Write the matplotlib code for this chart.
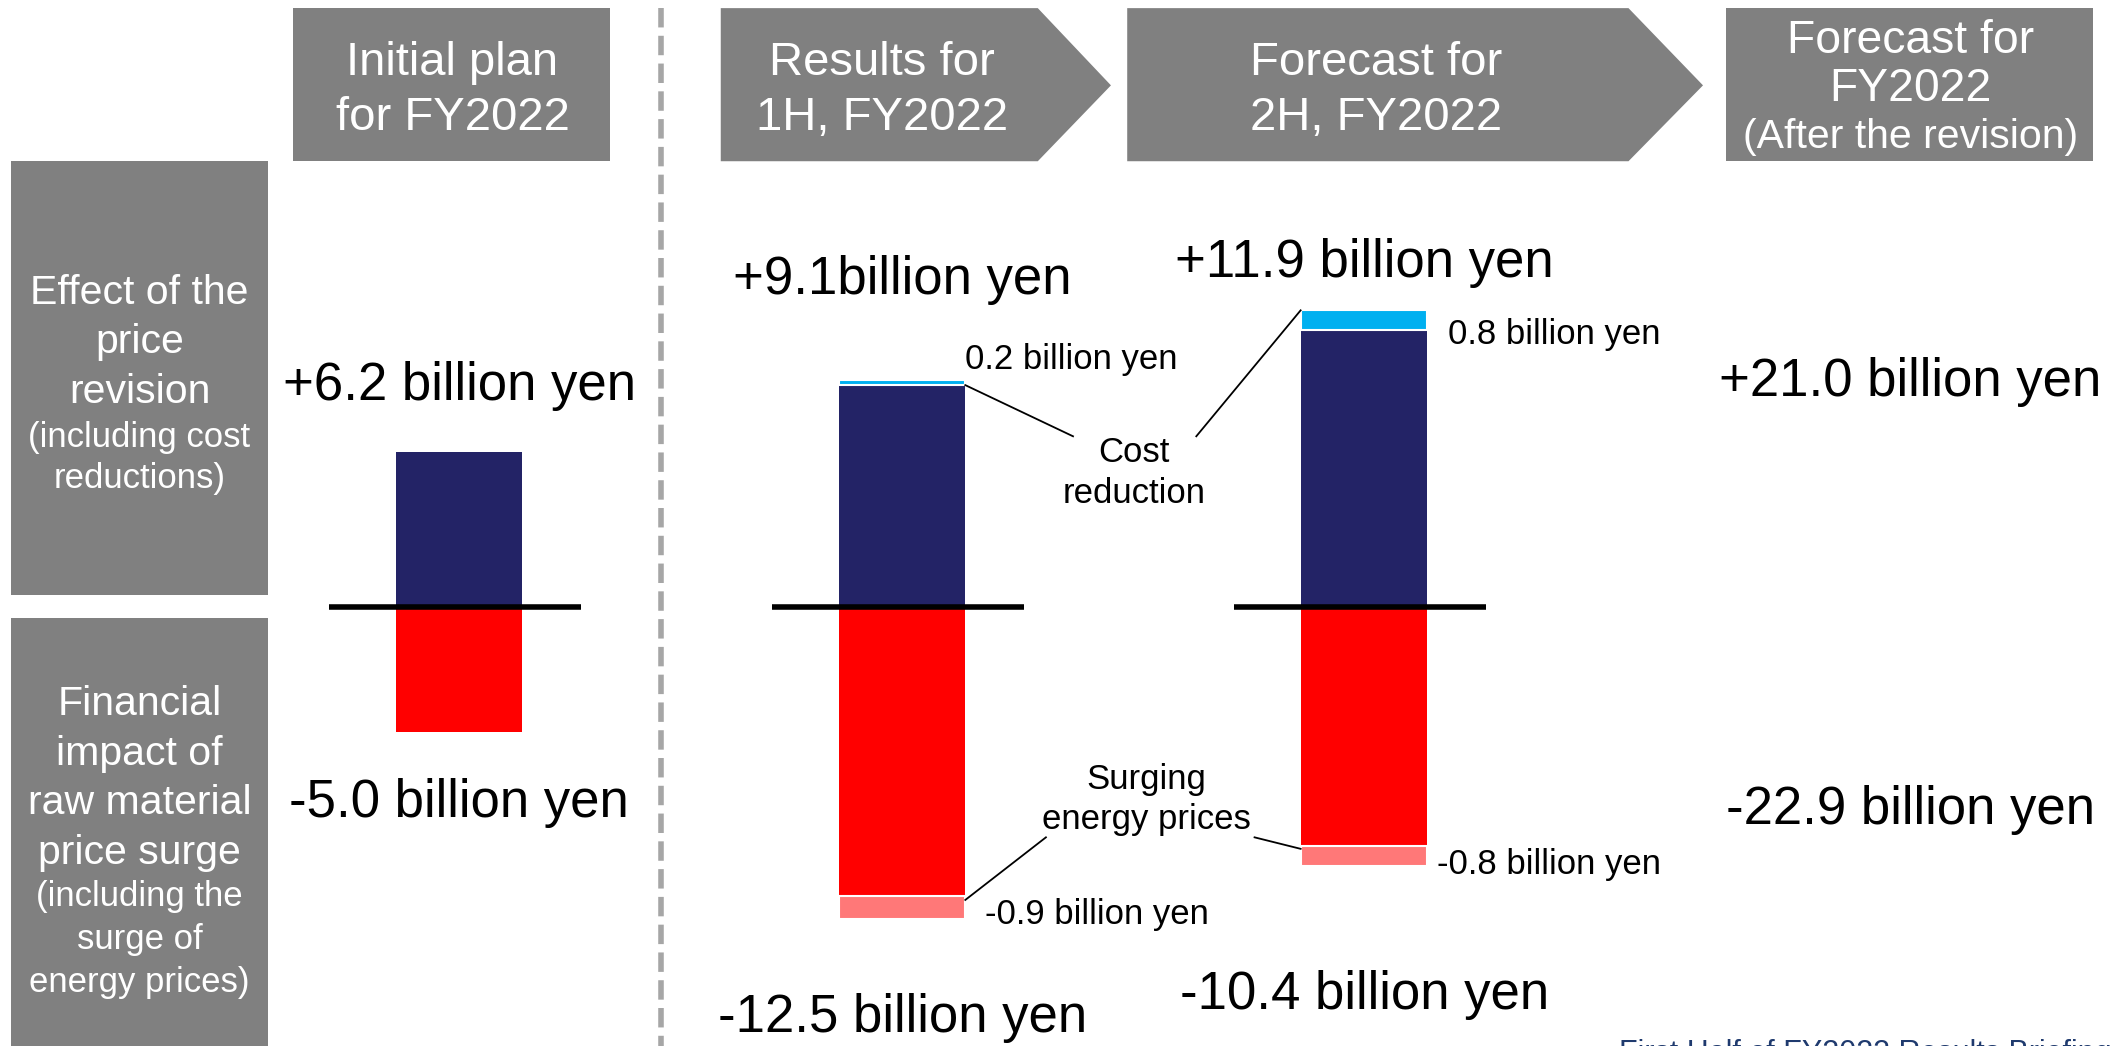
import matplotlib.pyplot as plt
from matplotlib.patches import Polygon, Rectangle

plt.rcParams['font.family'] = ['Liberation Sans', 'DejaVu Sans']

# data (billion yen)
headers = ["Initial plan\nfor FY2022", "Results for\n1H, FY2022", "Forecast for\n2H, FY2022", "Forecast for\nFY2022"]
header_note = "(After the revision)"
row_main = ["Effect of the\nprice\nrevision", "Financial\nimpact of\nraw material\nprice surge"]
row_note = ["(including cost\nreductions)", "(including the\nsurge of\nenergy prices)"]

price_total = [6.2, 9.1, 11.9, 21.0]
cost_reduction = [0.0, 0.2, 0.8]
raw_total = [-5.0, -12.5, -10.4, -22.9]
energy_surge = [0.0, -0.9, -0.8]

plus_labels = ["+6.2 billion yen", "+9.1billion yen", "+11.9 billion yen", "+21.0 billion yen"]
minus_labels = ["-5.0 billion yen", "-12.5 billion yen", "-10.4 billion yen", "-22.9 billion yen"]
cost_labels = ["0.2 billion yen", "0.8 billion yen"]
energy_labels = ["-0.9 billion yen", "-0.8 billion yen"]

# layout: x in slide pixels, y in billion yen
W, H = 1567, 772
BASE, S = 448, 18.4


def Y(px):
    return (BASE - px) / S


fig = plt.figure(figsize=(21.23, 10.46), dpi=100)
ax = fig.add_axes([0, 0, 1, 1])
ax.set_xlim(0, W)
ax.set_ylim(Y(H), Y(0))
ax.axis('off')

GRAY = '#808080'
NAVY = '#232366'
RED = '#ff0000'
PINK = '#ff7878'
CYAN = '#00b0f0'

# header boxes
ax.add_patch(Rectangle((216, Y(119)), 234, Y(6) - Y(119), color=GRAY, lw=0))
ax.add_patch(Polygon([(532, Y(6)), (766, Y(6)), (820, Y(63)), (766, Y(119)), (532, Y(119))], color=GRAY, lw=0))
ax.add_patch(Polygon([(832, Y(6)), (1202, Y(6)), (1257, Y(63)), (1202, Y(119)), (832, Y(119))], color=GRAY, lw=0))
ax.add_patch(Rectangle((1274, Y(119)), 271, Y(6) - Y(119), color=GRAY, lw=0))

hx = [334, 651, 1016, 1410]
for i in range(3):
    ax.text(hx[i], Y(67), headers[i], ha='center', va='center', color='white', fontsize=34, linespacing=1.33)
ax.text(hx[3], Y(48), headers[3], ha='center', va='center', color='white', fontsize=33.3, linespacing=1.1)
ax.text(hx[3], Y(101), header_note, ha='center', va='center', color='white', fontsize=29.5)

# row label boxes
ax.add_patch(Rectangle((8, Y(439)), 190, Y(119) - Y(439), color=GRAY, lw=0))
ax.add_patch(Rectangle((8, Y(800)), 190, Y(456) - Y(800), color=GRAY, lw=0))
ax.text(103, Y(252.5), row_main[0], ha='center', va='center', color='white', fontsize=29.5, linespacing=1.38)
ax.text(103, Y(338), row_note[0], ha='center', va='center', color='white', fontsize=25, linespacing=1.32)
ax.text(103, Y(574.5), row_main[1], ha='center', va='center', color='white', fontsize=29.5, linespacing=1.38)
ax.text(103, Y(693.5), row_note[1], ha='center', va='center', color='white', fontsize=25, linespacing=1.38)

# dashed divider
ax.plot([488, 488], [Y(6), Y(H)], color='#a6a6a6', lw=4, ls=(0, (3.5, 1.5)))

# bars
bar_x = [338.5, 666, 1006.5]
bw = 93
navy = [p - c for p, c in zip(price_total[:3], cost_reduction)]
red = [r - e for r, e in zip(raw_total[:3], energy_surge)]
ax.bar(bar_x, navy, width=bw, color=NAVY, lw=0)
ax.bar(bar_x[1:], cost_reduction[1:], bottom=navy[1:], width=bw, color=CYAN, edgecolor='white', lw=1.5)
ax.bar(bar_x, red, width=bw, color=RED, lw=0)
ax.bar(bar_x[1:], energy_surge[1:], bottom=red[1:], width=bw, color=PINK, edgecolor='white', lw=1.5)
ax.hlines([0] * 3, [x - 96 for x in bar_x], [x + 90 for x in bar_x], color='black', lw=4)

# totals
lx = [339, 666, 1007, 1410]
plus_y = [285, 207, 194, 282]
minus_y = [593, 751, 734, 598]
for i in range(4):
    ax.text(lx[i], Y(plus_y[i]), plus_labels[i], ha='center', va='center', fontsize=38)
    ax.text(lx[i], Y(minus_y[i]), minus_labels[i], ha='center', va='center', fontsize=38)

# small annotations
ax.text(712, Y(265), cost_labels[0], ha='left', va='center', fontsize=25)
ax.text(1069, Y(247), cost_labels[1], ha='left', va='center', fontsize=25)
ax.text(727, Y(675), energy_labels[0], ha='left', va='center', fontsize=25)
ax.text(1061, Y(638), energy_labels[1], ha='left', va='center', fontsize=25)
ax.text(837, Y(349), "Cost\nreduction", ha='center', va='center', fontsize=25, linespacing=1.3)
ax.text(846, Y(590), "Surging\nenergy prices", ha='center', va='center', fontsize=25, linespacing=1.3)

ax.plot([bar_x[1] + bw / 2, 792], [navy[1], Y(322)], color='black', lw=1.3)
ax.plot([bar_x[2] - bw / 2, 883], [price_total[2], Y(322)], color='black', lw=1.3)
ax.plot([bar_x[1] + bw / 2, 772], [red[1] - 0.15, Y(618)], color='black', lw=1.3)
ax.plot([bar_x[2] - bw / 2, 926], [red[2] - 0.1, Y(618)], color='black', lw=1.3)

# footer (cut off at the slide edge, as in the source)
ax.text(1195, Y(767), "First Half of FY2022 Results Briefing", ha='left', va='top', fontsize=22, color='#1f3a6e')

fig.savefig('out.png', dpi=100)
